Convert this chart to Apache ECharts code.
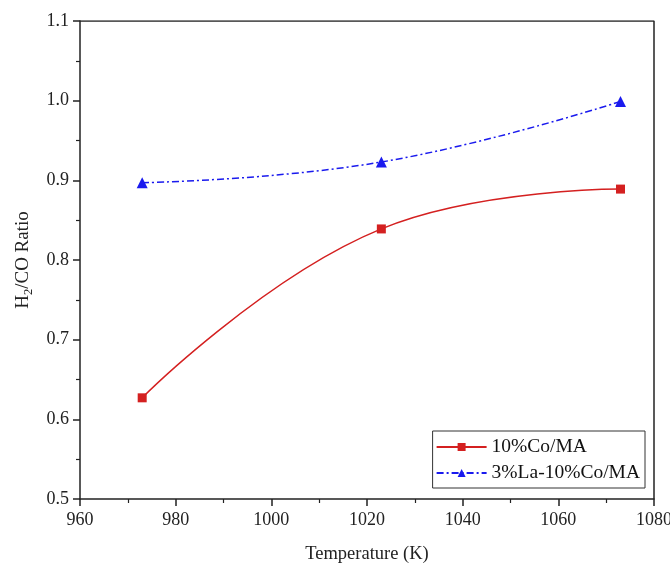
<!DOCTYPE html>
<html>
<head>
<meta charset="utf-8">
<script src="https://cdn.jsdelivr.net/npm/echarts@6/dist/echarts.min.js"></script>
<style>html,body{margin:0;padding:0;background:#fff;}#c{width:670px;height:566px;}</style>
</head>
<body>
<div id="c"></div>
<script>
var temperatures = [973, 1023, 1073];
var coMA = [0.627, 0.839, 0.889];
var laCoMA = [0.897, 0.923, 0.999];
var seriesNames = ['10%Co/MA', '3%La-10%Co/MA'];
var xTicks = {min: 960, max: 1080, interval: 20};
var yTicks = {min: 0.5, max: 1.1, interval: 0.1};

var font = 'Liberation Serif';
function pairs(xs, ys){ return xs.map(function(x,i){ return [x, ys[i]]; }); }

var chart = echarts.init(document.getElementById('c'));
chart.setOption({
  animation: false,
  backgroundColor: '#fff',
  grid: {left: 80, right: 16, top: 21, bottom: 67, containLabel: false,
         outerBoundsMode: 'none', show: false},
  xAxis: {
    type: 'value', min: xTicks.min, max: xTicks.max, interval: xTicks.interval,
    name: 'Temperature (K)', nameLocation: 'middle', nameGap: 46,
    nameTextStyle: {fontFamily: font, fontSize: 18.5, color: '#222'},
    axisLine: {show: true, onZero: false, lineStyle: {color: '#222', width: 1.5}},
    axisTick: {show: true, inside: false, length: 7, lineStyle: {color: '#222', width: 1.5}},
    minorTick: {show: true, splitNumber: 2, length: 4, lineStyle: {color: '#222', width: 1.2}},
    axisLabel: {fontFamily: font, fontSize: 18, color: '#222', margin: 12,
                formatter: function(v){ return String(v); }},
    splitLine: {show: false}
  },
  yAxis: {
    type: 'value', min: yTicks.min, max: yTicks.max, interval: yTicks.interval,
    name: '{n|H}{s|2}{n|/CO Ratio}', nameLocation: 'middle', nameGap: 45,
    nameTextStyle: {rich: {
      n: {fontFamily: font, fontSize: 19, color: '#222'},
      s: {fontFamily: font, fontSize: 12.5, color: '#222', padding: [10, 0, 0, 0]}
    }},
    axisLine: {show: true, onZero: false, lineStyle: {color: '#222', width: 1.5}},
    axisTick: {show: true, inside: false, length: 7, lineStyle: {color: '#222', width: 1.5}},
    minorTick: {show: true, splitNumber: 2, length: 4, lineStyle: {color: '#222', width: 1.2}},
    axisLabel: {fontFamily: font, fontSize: 18, color: '#222', margin: 11,
                formatter: function(v){ return v.toFixed(1); }},
    splitLine: {show: false}
  },
  legend: {
    right: 25, bottom: 78, orient: 'vertical',
    borderColor: '#333', borderWidth: 1, padding: [6, 5, 5, 3],
    itemWidth: 50, itemHeight: 10, itemGap: 6, align: 'left',
    textStyle: {fontFamily: font, fontSize: 19.5, color: '#111', padding: [0, 0, 0, 0]},
    data: seriesNames
  },
  series: [
    {
      name: seriesNames[0], type: 'line', smooth: 0.45,
      data: pairs(temperatures, coMA),
      symbol: 'rect', symbolSize: 9,
      itemStyle: {color: '#d42020'},
      lineStyle: {color: '#d42020', width: 1.5}
    },
    {
      name: seriesNames[1], type: 'line', smooth: 0.45,
      data: pairs(temperatures, laCoMA),
      symbol: 'triangle', symbolSize: 11,
      itemStyle: {color: '#1a1aee'},
      lineStyle: {color: '#1a1aee', width: 1.5, type: [7, 3, 2, 3]}
    },
    {
      type: 'line', data: [[xTicks.min, yTicks.max], [xTicks.max, yTicks.max], [xTicks.max, yTicks.min]],
      symbol: 'none', silent: true,
      lineStyle: {color: '#222', width: 1.5}, z: 1
    }
  ]
});
</script>
</body>
</html>
